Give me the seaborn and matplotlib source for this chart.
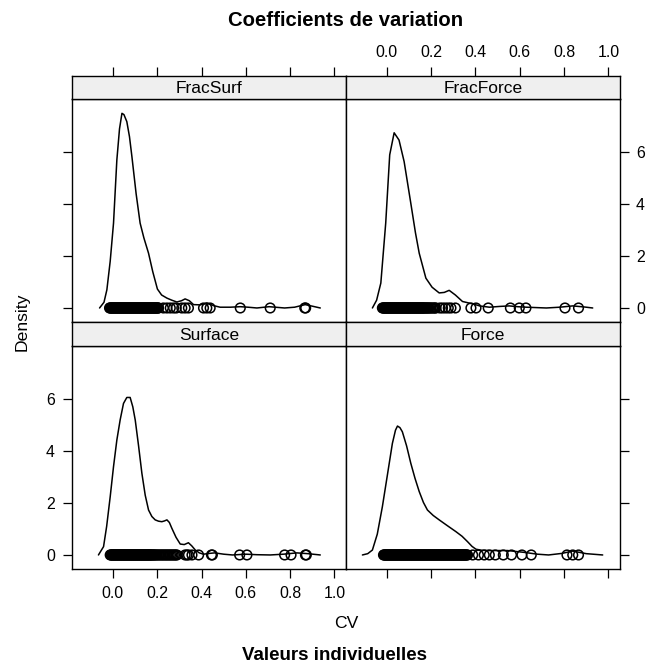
import matplotlib
matplotlib.use('Agg')
import matplotlib.pyplot as plt
import seaborn as sns
from matplotlib.ticker import FormatStrFormatter

# density curves (CV value, density)
fracsurf_x = [-0.060, -0.040, -0.027, -0.012, 0.003, 0.018, 0.030, 0.041, 0.050, 0.063, 0.075,
              0.086, 0.105, 0.123, 0.140, 0.161, 0.180, 0.201, 0.220, 0.244, 0.266, 0.289,
              0.310, 0.326, 0.345, 0.364, 0.395, 0.424, 0.455, 0.484, 0.530, 0.575, 0.610,
              0.650, 0.705, 0.775, 0.820, 0.868, 0.905, 0.936]
fracsurf_d = [0.0, 0.22, 0.70, 1.80, 3.27, 5.70, 6.90, 7.50, 7.45, 7.18, 6.60,
              5.83, 4.40, 3.27, 2.70, 2.11, 1.40, 0.73, 0.50, 0.38, 0.30, 0.23,
              0.28, 0.35, 0.28, 0.13, 0.12, 0.19, 0.09, 0.03, 0.03, 0.05, 0.03,
              0.0, 0.05, 0.0, 0.03, 0.13, 0.06, 0.0]

fracforce_x = [-0.064, -0.045, -0.026, -0.004, 0.014, 0.034, 0.056, 0.079, 0.109, 0.130, 0.147,
               0.177, 0.205, 0.237, 0.260, 0.282, 0.310, 0.342, 0.387, 0.420, 0.463, 0.510,
               0.553, 0.590, 0.630, 0.720, 0.780, 0.839, 0.890, 0.929]
fracforce_d = [0.0, 0.30, 0.96, 3.27, 5.90, 6.75, 6.47, 5.64, 4.04, 2.90, 2.11,
               1.15, 0.80, 0.58, 0.60, 0.68, 0.50, 0.25, 0.16, 0.08, 0.03, 0.06,
               0.08, 0.05, 0.03, 0.0, 0.03, 0.08, 0.04, 0.0]

surface_x = [-0.065, -0.042, -0.028, -0.012, 0.003, 0.018, 0.033, 0.048, 0.063, 0.078, 0.090,
             0.101, 0.116, 0.131, 0.146, 0.161, 0.176, 0.191, 0.206, 0.221, 0.233, 0.244,
             0.255, 0.266, 0.285, 0.304, 0.322, 0.341, 0.356, 0.372, 0.390, 0.409, 0.435,
             0.460, 0.500, 0.540, 0.600, 0.650, 0.710, 0.770, 0.830, 0.880, 0.936]
surface_d = [0.0, 0.32, 1.10, 2.24, 3.40, 4.42, 5.20, 5.83, 6.06, 6.06, 5.70,
             5.19, 4.20, 3.14, 2.30, 1.73, 1.48, 1.35, 1.30, 1.28, 1.31, 1.35,
             1.25, 1.03, 0.68, 0.42, 0.40, 0.47, 0.35, 0.19, 0.08, 0.03, 0.06,
             0.08, 0.03, 0.0, 0.03, 0.01, 0.0, 0.03, 0.08, 0.05, 0.0]

force_x = [-0.109, -0.085, -0.064, -0.042, -0.019, 0.004, 0.026, 0.040, 0.049, 0.060, 0.071,
           0.090, 0.109, 0.128, 0.147, 0.166, 0.184, 0.210, 0.237, 0.275, 0.312, 0.340,
           0.365, 0.385, 0.403, 0.430, 0.470, 0.545, 0.620, 0.680, 0.730, 0.790, 0.839,
           0.900, 0.974]
force_d = [0.0, 0.05, 0.19, 0.80, 1.86, 3.10, 4.29, 4.80, 4.96, 4.90, 4.74,
           4.20, 3.53, 2.95, 2.44, 2.02, 1.73, 1.52, 1.35, 1.12, 0.90, 0.72,
           0.51, 0.33, 0.22, 0.18, 0.17, 0.17, 0.10, 0.03, 0.0, 0.06, 0.15,
           0.05, 0.0]

# individual CV values (rug points)
fracsurf_pts = [-0.015, -0.012, -0.009, -0.006, -0.003, 0.000, 0.003, 0.006, 0.009, 0.012,
                0.015, 0.018, 0.021, 0.024, 0.027, 0.030, 0.033, 0.036, 0.039, 0.042,
                0.045, 0.048, 0.051, 0.054, 0.057, 0.060, 0.063, 0.066, 0.069, 0.072,
                0.075, 0.078, 0.081, 0.084, 0.087, 0.090, 0.093, 0.096, 0.099, 0.102,
                0.105, 0.108, 0.111, 0.114, 0.117, 0.120, 0.123, 0.126, 0.129, 0.132,
                0.135, 0.138, 0.141, 0.144, 0.147, 0.150, 0.153, 0.156, 0.159, 0.162,
                0.165, 0.168, 0.171, 0.174, 0.177, 0.180, 0.183, 0.186, 0.189, 0.192,
                0.195, 0.198, 0.201, 0.204, 0.206, 0.228, 0.244, 0.259, 0.274, 0.286,
                0.311, 0.326, 0.341, 0.409, 0.424, 0.439, 0.575, 0.710, 0.866, 0.870]
fracforce_pts = [-0.019, -0.016, -0.013, -0.010, -0.007, -0.004, -0.001, 0.002, 0.005, 0.008,
                 0.011, 0.014, 0.017, 0.020, 0.023, 0.026, 0.029, 0.032, 0.035, 0.038,
                 0.041, 0.044, 0.047, 0.050, 0.053, 0.056, 0.059, 0.062, 0.065, 0.068,
                 0.071, 0.074, 0.077, 0.080, 0.083, 0.086, 0.089, 0.092, 0.095, 0.098,
                 0.101, 0.104, 0.107, 0.110, 0.113, 0.116, 0.119, 0.122, 0.125, 0.128,
                 0.131, 0.134, 0.137, 0.140, 0.143, 0.146, 0.149, 0.152, 0.155, 0.158,
                 0.161, 0.164, 0.167, 0.170, 0.174, 0.178, 0.182, 0.186, 0.190, 0.195,
                 0.200, 0.206, 0.212, 0.218, 0.222, 0.240, 0.252, 0.265, 0.278, 0.290,
                 0.310, 0.380, 0.403, 0.458, 0.558, 0.598, 0.628, 0.804, 0.865]
surface_pts = [-0.012, -0.009, -0.006, -0.003, 0.000, 0.003, 0.006, 0.009, 0.012, 0.015,
               0.018, 0.021, 0.024, 0.027, 0.030, 0.033, 0.036, 0.039, 0.042, 0.045,
               0.048, 0.051, 0.054, 0.057, 0.060, 0.063, 0.066, 0.069, 0.072, 0.075,
               0.078, 0.081, 0.084, 0.087, 0.090, 0.093, 0.096, 0.099, 0.102, 0.105,
               0.108, 0.111, 0.114, 0.117, 0.120, 0.123, 0.126, 0.129, 0.132, 0.135,
               0.138, 0.141, 0.144, 0.147, 0.150, 0.153, 0.156, 0.159, 0.162, 0.165,
               0.168, 0.171, 0.174, 0.178, 0.182, 0.186, 0.190, 0.195, 0.200, 0.206,
               0.212, 0.218, 0.224, 0.230, 0.236, 0.242, 0.248, 0.254, 0.260, 0.266,
               0.272, 0.278, 0.284, 0.289, 0.326, 0.334, 0.341, 0.357, 0.387, 0.445,
               0.449, 0.572, 0.605, 0.775, 0.804, 0.869, 0.873]
force_pts = [-0.014, -0.011, -0.008, -0.005, -0.002, 0.001, 0.004, 0.007, 0.010, 0.013,
             0.016, 0.019, 0.022, 0.025, 0.028, 0.031, 0.034, 0.037, 0.040, 0.043,
             0.046, 0.049, 0.052, 0.055, 0.058, 0.061, 0.064, 0.067, 0.070, 0.073,
             0.076, 0.079, 0.082, 0.085, 0.088, 0.091, 0.094, 0.097, 0.100, 0.103,
             0.106, 0.109, 0.112, 0.115, 0.118, 0.121, 0.124, 0.127, 0.130, 0.133,
             0.136, 0.139, 0.142, 0.145, 0.148, 0.151, 0.154, 0.157, 0.160, 0.163,
             0.166, 0.169, 0.172, 0.175, 0.178, 0.181, 0.184, 0.187, 0.190, 0.193,
             0.196, 0.199, 0.202, 0.205, 0.208, 0.211, 0.214, 0.217, 0.220, 0.223,
             0.226, 0.229, 0.232, 0.235, 0.238, 0.241, 0.244, 0.247, 0.250, 0.253,
             0.256, 0.259, 0.262, 0.265, 0.268, 0.271, 0.274, 0.277, 0.280, 0.283,
             0.286, 0.289, 0.292, 0.295, 0.298, 0.301, 0.304, 0.307, 0.310, 0.313,
             0.316, 0.319, 0.322, 0.325, 0.328, 0.331, 0.334, 0.337, 0.340, 0.343,
             0.346, 0.349, 0.352, 0.355, 0.358, 0.361, 0.365, 0.388, 0.414, 0.440,
             0.463, 0.490, 0.526, 0.563, 0.610, 0.652, 0.813, 0.839, 0.865]

panel_names = ['FracSurf', 'FracForce', 'Surface', 'Force']
curves = {'FracSurf': (fracsurf_x, fracsurf_d), 'FracForce': (fracforce_x, fracforce_d),
          'Surface': (surface_x, surface_d), 'Force': (force_x, force_d)}
points = {'FracSurf': fracsurf_pts, 'FracForce': fracforce_pts,
          'Surface': surface_pts, 'Force': force_pts}

x_ticks = [0.0, 0.2, 0.4, 0.6, 0.8, 1.0]
y_ticks = [0, 2, 4, 6]

sns.set_style('white')
plt.rcParams['font.family'] = ['Liberation Sans', 'DejaVu Sans']
plt.rcParams['text.color'] = 'black'

fig = plt.figure(figsize=(6.48, 6.67), dpi=100)
W, H = 648.0, 667.0
col_left = [72.3, 346.0]
col_right = [346.0, 620.0]
row_strip_top = [75.7, 322.0]
row_panel_top = [99.3, 346.0]
row_panel_bot = [322.0, 569.0]

xlim = (-0.183, 1.052)
ylim = (-0.54, 8.04)

for i, name in enumerate(panel_names):
    r, c = divmod(i, 2)
    x0 = col_left[c] / W
    w = (col_right[c] - col_left[c]) / W
    ax = fig.add_axes([x0, 1 - row_panel_bot[r] / H, w, (row_panel_bot[r] - row_panel_top[r]) / H])
    st = fig.add_axes([x0, 1 - row_panel_top[r] / H, w, (row_panel_top[r] - row_strip_top[r]) / H])

    cx, cd = curves[name]
    sns.lineplot(x=cx, y=cd, ax=ax, color='black', linewidth=1.1, sort=False, estimator=None)
    pts = points[name]
    sns.scatterplot(x=pts, y=[0] * len(pts), ax=ax, marker='o', s=48,
                    facecolor='none', edgecolor='black', linewidth=1.1)

    ax.set_xlim(xlim)
    ax.set_ylim(ylim)
    ax.set_xticks(x_ticks)
    ax.set_yticks(y_ticks)
    ax.xaxis.set_major_formatter(FormatStrFormatter('%.1f'))
    ax.set_xlabel('')
    ax.set_ylabel('')

    st.set_xlim(xlim)
    st.set_ylim(0, 1)
    st.set_xticks(x_ticks)
    st.set_yticks([])
    st.xaxis.set_major_formatter(FormatStrFormatter('%.1f'))
    st.set_facecolor('#efefef')
    st.text(0.5, 0.45, name, transform=st.transAxes, ha='center', va='center',
            fontsize=12.5, color='black')

    for a in (ax, st):
        for sp in a.spines.values():
            sp.set_color('black')
            sp.set_linewidth(1.0)
        a.tick_params(direction='out', length=6.5, width=0.9, colors='black',
                      labelsize=11.4, pad=5, bottom=False, top=False, left=False, right=False,
                      labelbottom=False, labeltop=False, labelleft=False, labelright=False)

    if r == 0:
        st.tick_params(top=True, labeltop=(c == 1))
    else:
        ax.tick_params(bottom=True, labelbottom=(c == 0))
    if c == 0:
        ax.tick_params(left=True, labelleft=(r == 1), pad=6)
    else:
        ax.tick_params(right=True, labelright=(r == 0))

fig.text(346 / W, 1 - 20 / H, 'Coefficients de variation', ha='center', va='center',
         fontsize=14.6, fontweight='bold', color='black')
fig.text(346.7 / W, 1 - 623 / H, 'CV', ha='center', va='center', fontsize=12.6, color='black')
fig.text(334 / W, 1 - 656 / H, 'Valeurs individuelles', ha='center', va='center',
         fontsize=13.5, fontweight='bold', color='black')
fig.text(21.7 / W, 1 - 322 / H, 'Density', ha='center', va='center', rotation=90,
         fontsize=12.6, color='black')

fig.savefig('out.png', dpi=100)
